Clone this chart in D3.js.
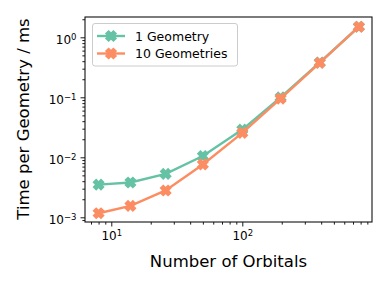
<!DOCTYPE html>
<html>
<head>
<meta charset="utf-8">
<script src="https://cdn.jsdelivr.net/npm/d3@7"></script>
<style>
  body { margin: 0; background: #fff; }
  text { font-family: "DejaVu Sans", sans-serif; fill: #000; }
</style>
</head>
<body>
<svg id="chart" width="390" height="292"></svg>
<script>
// number of orbitals (x) and timings in ms per geometry (y)
var orbitals = [8, 14, 26, 50, 100, 196, 390, 776];
var oneGeom = [0.0035, 0.0038, 0.0053, 0.0105, 0.029, 0.100, 0.38, 1.5];
var tenGeom = [0.00117, 0.00155, 0.0028, 0.0076, 0.0255, 0.095, 0.375, 1.5];
var seriesNames = ["1 Geometry", "10 Geometries"];
var seriesColors = ["#66c2a5", "#fc8d62"];
var xMajor = [10, 100];
var yMajor = [0.001, 0.01, 0.1, 1];

var svg = d3.select("#chart");
svg.append("rect").attr("width", 390).attr("height", 292).attr("fill", "#fff");

var x = d3.scaleLog().domain([6.3, 977]).range([85, 372]);
var y = d3.scaleLog().domain([8.35e-4, 2.18]).range([222, 17]);

// minor ticks: 2..9 of each decade inside the domain
function minorTicks(scale) {
  var dom = scale.domain(), out = [];
  for (var e = -4; e <= 3; e++) {
    for (var m = 2; m <= 9; m++) {
      var v = m * Math.pow(10, e);
      if (v >= dom[0] && v <= dom[1]) out.push(v);
    }
  }
  return out;
}

function supLabel(sel) {
  sel.each(function(d) {
    var t = d3.select(this).text("");
    var ex = Math.round(Math.log10(d));
    t.append("tspan").text("10");
    t.append("tspan").attr("dy", "-0.45em").attr("font-size", "8.5px")
      .text(ex < 0 ? "\u2212" + (-ex) : ex);
  });
}

// x axis
svg.append("g").attr("transform", "translate(0,222)")
  .call(d3.axisBottom(x).tickValues(minorTicks(x)).tickSize(2.6).tickFormat(""))
  .call(g => g.select(".domain").remove());
var xa = svg.append("g").attr("transform", "translate(0,222)")
  .call(d3.axisBottom(x).tickValues(xMajor).tickSize(4.5).tickPadding(5));
xa.select(".domain").remove();
xa.selectAll("text").attr("font-size", "12px").attr("font-family", "DejaVu Sans")
  .attr("fill", "#000").call(supLabel);

// y axis
svg.append("g").attr("transform", "translate(85,0)")
  .call(d3.axisLeft(y).tickValues(minorTicks(y)).tickSize(2.6).tickFormat(""))
  .call(g => g.select(".domain").remove());
var ya = svg.append("g").attr("transform", "translate(85,0)")
  .call(d3.axisLeft(y).tickValues(yMajor).tickSize(4.5).tickPadding(4));
ya.select(".domain").remove();
ya.selectAll("text").attr("font-size", "12px").attr("font-family", "DejaVu Sans")
  .attr("fill", "#000").attr("dy", "0.5em").call(supLabel);
svg.selectAll(".tick line").attr("stroke", "#000").attr("stroke-width", 0.9);

// frame
svg.append("rect").attr("x", 85).attr("y", 17).attr("width", 287).attr("height", 205)
  .attr("fill", "none").attr("stroke", "#111").attr("stroke-width", 1.1);

var line = d3.line().x(d => x(d[0])).y(d => y(d[1]));
// matplotlib-like filled "X" marker: a thick plus turned by 45 degrees
var L = 6, w = 2.6;
var markerPath = `M${-w},${-L}H${w}V${-w}H${L}V${w}H${w}V${L}H${-w}V${w}H${-L}V${-w}H${-w}Z`;

[oneGeom, tenGeom].forEach(function(vals, i) {
  var pts = orbitals.map((o, j) => [o, vals[j]]);
  svg.append("path").datum(pts).attr("d", line).attr("fill", "none")
    .attr("stroke", seriesColors[i]).attr("stroke-width", 2.4);
  svg.selectAll(".m" + i).data(pts).join("path")
    .attr("d", markerPath)
    .attr("transform", d => `translate(${x(d[0])},${y(d[1])}) rotate(45)`)
    .attr("fill", seriesColors[i]);
});

// legend
var lg = svg.append("g");
lg.append("rect").attr("x", 92.5).attr("y", 23.5).attr("width", 145).attr("height", 42.5)
  .attr("rx", 2.5).attr("fill", "#fff").attr("fill-opacity", 0.8)
  .attr("stroke", "#ccc").attr("stroke-width", 1);
seriesNames.forEach(function(name, i) {
  var yy = 36 + i * 17.5;
  lg.append("line").attr("x1", 97).attr("x2", 125).attr("y1", yy).attr("y2", yy)
    .attr("stroke", seriesColors[i]).attr("stroke-width", 2.4);
  lg.append("path").attr("d", markerPath).attr("fill", seriesColors[i])
    .attr("transform", `translate(111,${yy}) rotate(45)`);
  lg.append("text").attr("x", 135).attr("y", yy).attr("dy", "0.36em")
    .attr("font-size", "12.5px").text(name);
});

// axis titles
svg.append("text").attr("x", 228.5).attr("y", 267).attr("text-anchor", "middle")
  .attr("font-size", "16.5px").text("Number of Orbitals");
svg.append("text").attr("transform", "translate(29,119) rotate(-90)")
  .attr("text-anchor", "middle").attr("font-size", "16.5px").text("Time per Geometry / ms");
</script>
</body>
</html>
